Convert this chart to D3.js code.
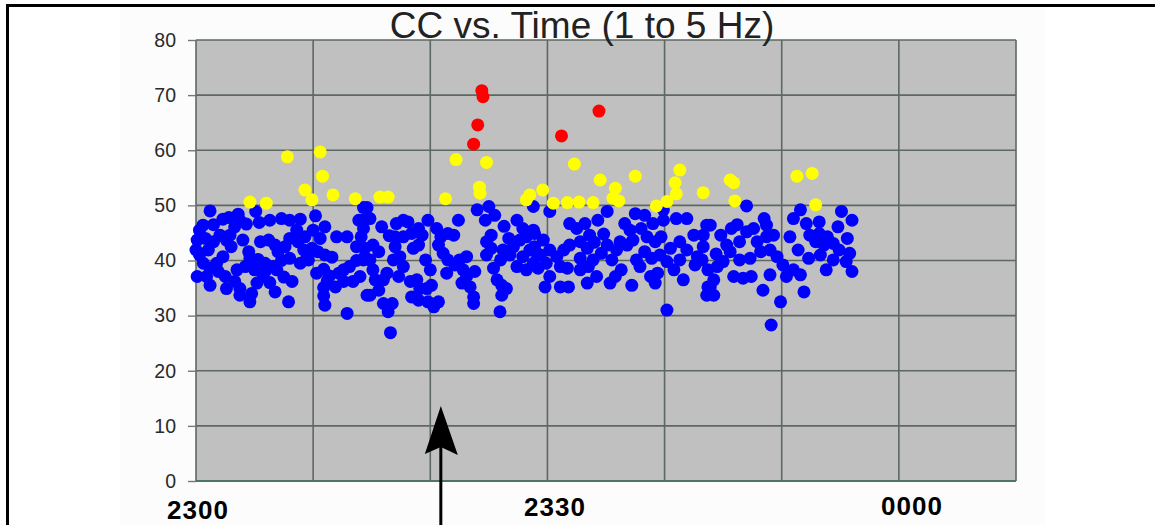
<!DOCTYPE html>
<html><head><meta charset="utf-8">
<script src="https://cdn.jsdelivr.net/npm/d3@7"></script>
<style>html,body{margin:0;padding:0;background:#fff;}svg{display:block;}</style>
</head><body><svg id="c" width="1155" height="525"></svg>
<script>
// ---- data (minutes after 2300, CC value) ----
const chartTitle = "CC vs. Time (1 to 5 Hz)";
const yTicks = [0,10,20,30,40,50,60,70,80];
const xGrid = [0,10,20,30,40,50,60,70];
const xTickValues = [0,30,60];
const xTickLabels = ["2300","2330","0000"];
const arrowTime = 20.9;

const redPoints = [[24.4,70.8],[24.5,69.7],[24.05,64.6],[23.7,61.1],[31.2,62.6],[34.4,67.1]];

const yellowPoints = [[4.6,50.6],[6.0,50.4],[7.8,58.8],[9.3,52.8],[9.9,51.0],[10.6,59.7],[10.8,55.3],[11.7,51.9],[13.6,51.2],
[15.7,51.5],[16.4,51.5],[21.3,51.2],[22.2,58.3],[24.8,57.8],[24.2,53.3],[24.25,52.2],[28.5,51.9],[28.2,51.0],[29.6,52.8],
[30.5,50.4],[31.7,50.5],[32.7,50.6],[33.9,50.5],[32.3,57.5],[34.5,54.6],[35.8,53.1],[35.6,51.3],[36.1,50.8],[37.5,55.3],
[39.3,49.9],[40.2,50.7],[40.9,54.1],[41.0,52.1],[41.3,56.4],[43.3,52.3],[45.6,54.6],[45.9,54.1],[46.0,50.8],[51.3,55.3],[52.6,55.8],[52.9,50.1]];

const bluePoints = [
[1.2,49.0],[2.3,47.5],[3.6,48.4],[3.75,47.3],[5.1,48.9],[5.4,46.9],[6.3,47.3],[7.3,47.6],[8.0,47.3],[8.9,47.5],[10.2,48.1],[11.0,46.1],[14.3,49.6],[13.9,47.3],
[0.6,46.4],[0.3,45.5],[0.1,43.7],[0.0,41.9],[0.3,41.0],[1.05,41.9],[1.5,43.4],[2.05,44.6],[2.6,43.7],[3.0,42.5],[2.3,40.7],[1.76,39.5],[1.2,38.6],[0.63,39.5],[0.1,37.1],[0.9,37.1],[1.2,35.5],[1.9,38.0],[2.5,37.1],[2.6,34.9],[3.3,36.2],[3.75,34.9],[3.75,33.7],[3.5,38.3],[4.2,38.9],[4.6,40.4],[4.5,41.6],[4.0,43.7],[3.3,46.1],[2.9,44.6],
[1.5,46.5],[2.8,47.8],[4.3,46.6],[0.8,44.0],
[5.5,43.4],[6.2,43.7],[6.75,42.8],[7.0,41.6],[7.6,42.5],[8.0,44.0],[8.6,45.5],[8.7,43.4],[9.2,41.9],[9.45,40.4],[9.3,44.3],[9.9,42.2],[10.4,41.6],[11.0,41.0],[11.6,40.6],[10.6,44.0],[10.0,45.5],
[8.0,40.4],[7.3,40.0],[6.6,38.9],[5.9,39.5],[5.3,40.2],[5.0,38.3],[5.75,37.1],[6.3,36.0],[6.75,34.3],[6.0,38.3],[5.2,35.9],[4.75,34.0],[4.6,32.5],[6.9,38.3],[7.5,37.0],[8.2,36.2],[7.9,32.5],
[8.9,39.5],[9.6,40.1],[10.3,37.7],[10.9,38.4],[11.4,37.2],[12.2,37.7],[11.2,36.3],[10.9,35.1],[10.9,33.6],[11.0,31.9],[11.9,35.2],[12.9,30.4],
[12.6,38.3],[13.1,38.9],[13.7,40.0],[14.4,40.6],[14.6,33.7],[14.0,37.1],[13.4,36.2],[12.6,36.2],[12.0,44.3],[12.9,44.3],[13.7,42.5],[14.3,47.3],
[14.6,49.6],[14.85,47.6],[14.3,45.8],[14.1,44.3],[14.4,42.2],[14.3,40.1],[14.85,40.1],[15.1,38.3],[15.3,36.5],[14.85,33.7],[15.6,34.6],[16.0,36.5],[16.3,37.7],[15.85,46.1],[15.1,42.8],[15.6,41.6],[16.0,32.2],[16.4,30.7],[16.75,32.2],[16.6,26.9],
[17.1,46.7],[18.1,47.0],[17.0,44.3],[17.0,42.5],[17.7,44.3],[18.4,44.9],[19.0,45.8],[19.3,44.6],[17.4,40.7],[16.85,40.1],[17.7,38.9],[17.3,37.1],[18.55,42.2],[19.0,42.8],[18.85,36.5],[18.3,36.2],[18.4,33.4],[19.1,34.9],[19.0,32.8],[19.7,34.9],[20.1,35.5],[19.8,32.5],[20.3,31.6],[20.7,32.5],[19.6,40.1],[20.0,38.3],
[16.5,44.5],[17.7,47.3],
[19.8,47.3],[20.55,45.8],[20.9,44.3],[20.7,42.8],[21.5,44.9],[22.0,44.6],[22.4,47.3],[21.1,41.3],[21.5,40.1],[21.4,37.7],[22.1,39.2],[22.5,40.1],[23.1,40.7],[22.8,38.3],[23.1,37.1],[22.7,35.9],[23.4,35.2],[23.7,33.4],[23.7,32.2],[23.8,38.0],
[24.0,49.2],[24.7,47.3],[25.0,49.8],[25.5,48.2],[25.2,44.6],[24.8,43.4],[25.2,42.2],[24.8,41.0],[25.4,38.6],[26.0,40.1],[25.7,36.5],[26.1,35.5],[26.5,34.9],[26.1,33.7],[25.95,30.7],[26.2,41.9],[26.8,41.0],[27.1,42.5],[27.4,47.3],[27.9,45.8],[27.65,43.7],[28.2,44.3],[28.8,49.8],[27.4,38.9],[27.9,40.7],[28.5,41.9],[28.8,39.5],[28.2,38.3],[29.1,41.3],[28.8,45.5],
[26.7,44.0],[26.3,46.2],
[30.2,48.9],[28.9,44.9],[29.65,43.7],[28.9,42.5],[29.4,41.0],[30.2,41.9],[29.9,39.5],[29.2,38.6],[30.2,37.1],[29.8,35.2],[31.1,35.2],[31.8,35.2],[30.8,40.7],[31.4,41.9],[31.9,42.8],[31.1,38.9],[31.7,38.6],[31.9,46.7],[32.5,45.8],[33.2,46.7],[33.6,44.6],[32.8,43.4],[33.4,42.2],[32.8,40.4],[33.5,38.9],[32.8,38.3],[33.4,35.9],[34.2,37.1],[33.9,40.1],[34.6,41.3],[34.3,47.3],[35.1,48.9],
[34.8,44.8],[34.0,43.3],
[35.1,42.8],[35.5,40.1],[35.9,41.9],[35.35,35.9],[35.8,37.1],[36.3,38.3],[36.2,43.4],[36.6,46.7],[37.05,45.5],[37.5,48.5],[36.8,42.8],[37.3,43.7],[37.2,35.5],[37.6,40.1],[37.9,38.9],[38.3,48.2],[38.0,45.8],[38.5,44.3],[39.0,46.7],[39.2,43.4],[38.3,41.6],[38.9,40.4],[39.6,41.0],[38.8,37.1],[39.4,37.7],[39.2,35.9],[39.9,47.3],[39.9,49.2],[39.7,44.3],[40.5,42.2],[40.2,39.8],[40.8,38.3],[41.3,40.1],[41.6,36.5],[40.2,31.0],
[41.0,47.6],[41.9,47.6],[41.3,43.4],[41.9,41.9],[42.5,44.6],[42.8,40.7],[42.6,39.2],[43.3,42.5],[43.6,46.4],[43.7,38.3],[43.7,35.2],[43.6,33.7],
[43.9,46.4],[43.3,44.6],[43.2,40.1],[45.7,45.8],[47.0,49.9],[47.0,45.2],[46.4,43.4],[47.6,45.8],[48.5,47.6],[48.7,46.4],[47.9,43.4],[48.7,44.3],[49.3,44.6],[48.2,41.6],[49.0,41.9],[47.3,40.4],[46.4,40.1],[45.6,41.6],[45.0,39.8],[44.5,38.9],[44.2,36.5],[43.9,35.2],[44.2,33.7],[45.9,37.1],[46.7,36.8],[47.4,37.1],[48.4,34.6],[49.0,37.4],[49.9,32.5],[49.1,28.3],
[44.8,44.6],[45.3,42.8],[44.4,41.2],[46.2,46.5],
[49.6,40.7],[50.1,39.2],[50.7,44.3],[51.0,47.6],[51.6,49.2],[50.4,37.1],[51.6,37.4],[51.9,34.3],[51.4,41.9],[52.1,46.7],[52.4,44.6],[53.2,47.0],[52.9,43.4],[52.3,40.4],[53.3,41.0],[53.2,44.9],[53.6,42.8],[53.9,44.3],[53.8,38.3],[54.4,40.1],[54.9,41.9],[54.8,46.1],[55.1,48.9],[55.6,44.0],[56.0,47.3],[55.8,41.3],[55.5,39.8],[56.0,38.0],[54.4,43.1],[51.0,38.3]
];

// ---- drawing ----
const svg = d3.select("#c");
const x = d3.scaleLinear().domain([0,70]).range([196,1016]);
const y = d3.scaleLinear().domain([0,80]).range([481,40]);
const xLabel = d3.scaleLinear().domain([0,60]).range([198,912]);

// pasted-chart background
svg.append("rect").attr("x",120).attr("y",7).attr("width",925).attr("height",518).attr("fill","#fcfcfc");

// plot area
svg.append("rect").attr("x",x(0)).attr("y",y(80)).attr("width",x(70)-x(0)).attr("height",y(0)-y(80)).attr("fill","#c0c0c0");

// grid
svg.append("g").selectAll("line").data(yTicks).join("line")
  .attr("x1",x(0)).attr("x2",x(70)).attr("y1",d=>y(d)).attr("y2",d=>y(d))
  .attr("stroke","#5d6862").attr("stroke-width",1.6);
svg.append("g").selectAll("line").data(xGrid).join("line")
  .attr("x1",d=>x(d)).attr("x2",d=>x(d)).attr("y1",y(0)).attr("y2",y(80))
  .attr("stroke","#5d6862").attr("stroke-width",1.6);
svg.append("line").attr("x1",x(0)).attr("x2",x(70)).attr("y1",y(0)).attr("y2",y(0))
  .attr("stroke","#4f7466").attr("stroke-width",2.2);

// y axis
const yAxis = d3.axisLeft(y).tickValues(yTicks).tickSize(8).tickPadding(12);
const gy = svg.append("g").attr("transform",`translate(${x(0)},0)`).call(yAxis);
gy.select(".domain").remove();
gy.selectAll(".tick line").attr("stroke","#777").attr("stroke-width",1.4);
gy.selectAll(".tick text").attr("font-family","Liberation Sans, Arial, sans-serif").attr("font-size",19.5).attr("fill","#2a2a2a");

// x labels
svg.append("g").selectAll("text").data(xTickValues).join("text")
  .attr("x",d=>xLabel(d)).attr("y",(d,i)=>[519,516,515][i])
  .attr("text-anchor","middle").attr("font-family","Liberation Sans, Arial, sans-serif")
  .attr("font-weight","bold").attr("font-size",26).attr("letter-spacing",1).attr("fill","#000")
  .text((d,i)=>xTickLabels[i]);

// points
const series = [[bluePoints,"#0000ff"],[yellowPoints,"#ffff00"],[redPoints,"#ff0000"]];
series.forEach(([pts,col])=>{
  svg.append("g").selectAll("circle").data(pts).join("circle")
    .attr("cx",d=>x(d[0])).attr("cy",d=>y(d[1])).attr("r",6.5).attr("fill",col);
});

// title
svg.append("text").attr("x",582).attr("y",38).attr("text-anchor","middle")
  .attr("font-family","Liberation Sans, Arial, sans-serif").attr("font-size",37).attr("fill","#222")
  .text(chartTitle);

// annotation arrow
const ax = x(arrowTime);
svg.append("line").attr("x1",ax).attr("x2",ax).attr("y1",525).attr("y2",446).attr("stroke","#000").attr("stroke-width",3);
svg.append("path").attr("d",`M${ax},406 L${ax+17},455 L${ax},447 L${ax-16},454 Z`).attr("fill","#000");

// outer frame
svg.append("line").attr("x1",6).attr("x2",1155).attr("y1",5.5).attr("y2",5.5).attr("stroke","#000").attr("stroke-width",3);
svg.append("line").attr("x1",7.5).attr("x2",7.5).attr("y1",4).attr("y2",525).attr("stroke","#000").attr("stroke-width",3);
</script></body></html>
